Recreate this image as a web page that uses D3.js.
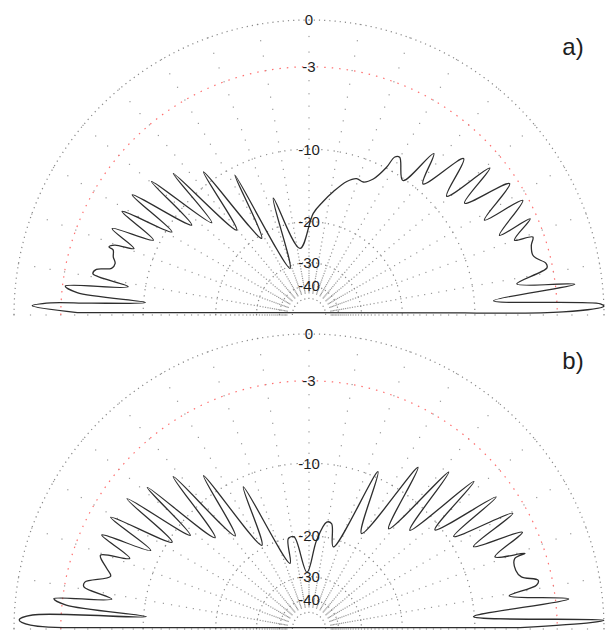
<!DOCTYPE html>
<html lang="en">
<head>
<meta charset="utf-8">
<title>Polar patterns a) and b)</title>
<script src="https://cdnjs.cloudflare.com/ajax/libs/d3/7.8.5/d3.min.js"></script>
<style>
  body { margin: 0; background: #fff; }
  svg { display: block; font-family: "Liberation Sans", Arial, sans-serif; }
</style>
</head>
<body>
<script>

// Grid: ring levels (dB), their labels and spoke angles (deg, 0 = broadside)
var ringLevels = [0, -3, -10, -20, -30, -40, -50];
var ringLabels = ["0", "-3", "-10", "-20", "-30", "-40", ""];
var spokeAngles = [-90, -80, -70, -60, -50, -40, -30, -20, -10, 0, 10, 20, 30, 40, 50, 60, 70, 80, 90];
var spokeLevels = [-45, -44, -43, -42, -41, -40, -39, -38, -37, -36, -35, -34,
                   -33, -32, -31, -30, -29, -28, -27, -26, -25, -24, -23, -22, -21, -20, -19, -18, -17,
                   -16, -15, -14, -13, -12, -11, -10, -9, -8, -7, -6, -5, -4, -3, -2, -1, 0];

// Pattern a) : angle (deg) and level (dB)
var anglesA = [-89.4, -88.1, -87.3, -86.9, -85.6, -84.5, -83.2, -81.1, -79.2, -77.9, -76.7, -75.1,
               -73.5, -71.6, -71.2, -70.2, -69.2, -66.3, -64.3, -61.0, -58.8, -55.8, -52.5, -49.7,
               -46.5, -43.8, -40.4, -36.4, -31.7, -27.9, -22.1, -17.0, -7.7, 2.4, 7.0, 11.2, 15.8,
               19.2, 22.2, 25.3, 27.7, 28.5, 29.9, 34.9, 37.7, 41.0, 44.7, 49.2, 50.9, 54.3, 56.8,
               61.6, 61.8, 67.3, 66.5, 70.0, 70.8, 72.6, 75.0, 76.0, 77.7, 78.8, 81.5, 83.4, 85.6,
               87.8, 88.3, 89.3, 89.2];
var levelsA = [-4.2, -1.1, -2.3, -5.2, -10.2, -4.1, -3.2, -8.3, -5.1, -5.3, -6.5, -6.7,
               -6.4, -6.2, -5.8, -6.2, -7.9, -5.5, -9.3, -5.6, -10.6, -5.6, -12.0, -6.2,
               -13.7, -7.1, -16.9, -8.8, -20.6, -10.8, -30.7, -15.3, -25.7, -18.5, -16.5, -14.8, -13.1,
               -12.4, -12.5, -11.7, -9.9, -8.6, -8.4, -10.2, -6.4, -9.2, -5.1, -8.4, -4.1, -7.5, -3.6,
               -6.8, -3.4, -6.2, -3.5, -5.2, -3.8, -4.1, -4.2, -4.0, -3.4, -3.4, -5.9, -1.7, -8.1,
               -0.2, 0, -2.6, -11.1];

// Pattern b)
var anglesB = [-89.6, -89.2, -88.2, -87.1, -85.7, -84.4, -83.2, -81.4, -79.4, -78.2, -75.1, -73.3,
               -70.5, -68.5, -65.6, -63.6, -60.6, -57.6, -54.4, -51.7, -48.8, -45.8, -41.7, -38.4,
               -34.5, -29.4, -24.8, -16.1, -12.9, -9.2, -2.0, 4.9, 9.4, 12.1, 16.5, 23.7, 28.8,
               34.0, 38.5, 41.7, 45.6, 48.2, 51.8, 54.8, 57.4, 60.4, 63.4, 65.6, 68.8, 70.7, 71.1,
               74.2, 76.2, 78.0, 79.1, 80.6, 83.4, 85.7, 88.3, 88.7, 89.6];
var levelsB = [-6.0, -1.0, -0.3, -1.1, -10.3, -3.3, -2.4, -6.8, -4.4, -4.4, -6.3, -5.8,
               -5.0, -7.4, -4.5, -8.9, -4.5, -10.4, -4.8, -11.6, -5.5, -14.1, -6.4, -15.8,
               -8.0, -19.5, -11.0, -25.4, -20.1, -20.0, -28.6, -20.8, -17.4, -17.5, -21.5, -9.4, -17.3,
               -7.2, -14.5, -5.9, -12.8, -5.0, -10.6, -4.4, -9.4, -4.0, -8.2, -4.0, -6.8, -4.4, -5.3,
               -5.5, -5.2, -4.0, -4.2, -6.5, -2.1, -10.1, 0, -0.8, -5.8];

var w = 606, h = 630, R = 295;

// radius grows with the square root of the amplitude
var rScale = d3.scaleSqrt().domain([0, 1]).range([0, R]);
function radius(db) { return rScale(Math.pow(10, db / 20)); }
var aScale = d3.scaleLinear().domain([-90, 90]).range([-Math.PI / 2, Math.PI / 2]);

var svg = d3.select("body").append("svg")
  .attr("width", w)
  .attr("height", h);

svg.append("clipPath")
  .attr("id", "upper")
  .append("rect")
  .attr("x", -R - 20)
  .attr("y", -R - 20)
  .attr("width", 2 * R + 40)
  .attr("height", R + 22);

var ringDash = { "0": "1.2,4", "-3": "1.5,6", "-10": "1.2,5", "-20": "1.2,4.5", "-30": "1.2,3.5", "-40": "1.2,3", "-50": "1.2,3" };

function drawPanel(cx, cy, angles, levels, tag) {
  var g = svg.append("g").attr("transform", "translate(" + cx + "," + cy + ")");

  // spokes, one dot per dB
  spokeAngles.forEach(function(a) {
    g.append("g").selectAll("rect")
      .data(spokeLevels)
      .enter()
      .append("rect")
      .attr("x", function(d) { return Math.sin(aScale(a)) * radius(d) - 0.6; })
      .attr("y", function(d) { return -Math.cos(aScale(a)) * radius(d) - 0.6; })
      .attr("width", 1.2)
      .attr("height", 1.2)
      .attr("fill", "#9a9a9a");
  });

  // rings
  g.selectAll("path.ring")
    .data(ringLevels)
    .enter()
    .append("path")
    .attr("class", "ring")
    .attr("d", function(d) {
      var p = d3.path();
      p.arc(0, 0, radius(d), Math.PI, 2 * Math.PI);
      return p.toString();
    })
    .attr("fill", "none")
    .attr("stroke", function(d) { return d === -3 ? "#ff7070" : "#888"; })
    .attr("stroke-width", 1.2)
    .attr("stroke-dasharray", function(d) { return ringDash[String(d)]; });

  // pattern
  var pts = angles.map(function(a, i) { return [a, levels[i]]; });
  var line = d3.lineRadial()
    .angle(function(d) { return aScale(d[0]); })
    .radius(function(d) { return radius(d[1]); })
    .curve(d3.curveCatmullRom.alpha(0.5));

  g.append("path")
    .attr("clip-path", "url(#upper)")
    .attr("d", line(pts) + "Z")
    .attr("fill", "none")
    .attr("stroke", "#2e2e2e")
    .attr("stroke-width", 1.3)
    .attr("stroke-linejoin", "round");

  // ring labels
  g.selectAll("text.lbl")
    .data(ringLevels.filter(function(d, i) { return ringLabels[i] !== ""; }))
    .enter()
    .append("text")
    .attr("class", "lbl")
    .attr("x", 0)
    .attr("y", function(d) { return -radius(d); })
    .attr("dy", "0.36em")
    .attr("text-anchor", "middle")
    .attr("font-size", 15)
    .attr("fill", "#1e1e1e")
    .text(function(d) { return ringLabels[ringLevels.indexOf(d)]; });

  // panel tag
  g.append("text")
    .attr("x", 264)
    .attr("y", -269)
    .attr("dy", "0.36em")
    .attr("text-anchor", "middle")
    .attr("font-size", 24)
    .attr("fill", "#1e1e1e")
    .text(tag);
}

drawPanel(309, 315, anglesA, levelsA, "a)");
drawPanel(309, 629, anglesB, levelsB, "b)");

</script>
</body>
</html>
